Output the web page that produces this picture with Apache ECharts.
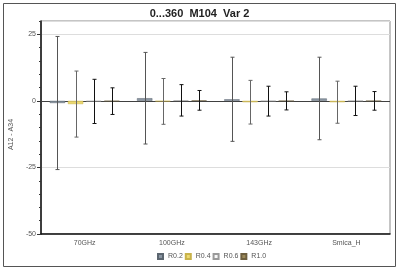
<!DOCTYPE html>
<html><head><meta charset="utf-8">
<script src="https://cdn.jsdelivr.net/npm/echarts@6/dist/echarts.min.js"></script>
<style>html,body{margin:0;padding:0;background:#fff}#c{width:399px;height:269px}</style>
</head><body><div id="c"></div>
<script>
var categories = ['70GHz', '100GHz', '143GHz', 'Smica_H'];
var seriesNames = ['R0.2', 'R0.4', 'R0.6', 'R1.0'];
var r02 = [-0.8, 1.0, 0.6, 0.9];
var r04 = [-1.2, -0.2, -0.5, -0.5];
var r06 = [-0.2, 0.2, -0.1, 0.0];
var r10 = [-0.1, 0.2, 0.0, 0.0];
var err02 = [25.0, 17.2, 15.8, 15.5];
var err04 = [12.4, 8.6, 8.2, 7.9];
var err06 = [8.3, 5.9, 5.6, 5.5];
var err10 = [5.0, 3.7, 3.4, 3.5];
var yTicks = [-50, -25, 0, 25];

var values = [r02, r04, r06, r10];
var errs = [err02, err04, err06, err10];
var fills = ['#8a96a3', '#ecd970', '#f8f8f8', '#9c8a5a'];
var borders = ['#5c6670', '#c8b24a', '#9a9a9a', '#6e6040'];
var errColors = ['#555555', '#666666', '#111111', '#111111'];

var CAT_GAP = 0.20, BAR_GAP = 0.18, N = 4;
function offsetFor(i, band) {
  var avail = band * (1 - CAT_GAP);
  var w = avail / (N + (N - 1) * BAR_GAP);
  return -avail / 2 + i * w * (1 + BAR_GAP) + w / 2;
}

var series = [];
values.forEach(function (vals, i) {
  var s = {
    name: seriesNames[i], type: 'bar', data: vals,
    barCategoryGap: (CAT_GAP * 100) + '%', barGap: (BAR_GAP * 100) + '%',
    itemStyle: { color: fills[i], borderColor: borders[i], borderWidth: 0.5 },
    z: 2
  };
  if (i === 0) {
    s.markLine = { silent: true, symbol: 'none', label: { show: false },
      lineStyle: { color: '#404040', width: 1, type: 'solid' },
      data: [{ yAxis: 0 }], z: 1 };
  }
  series.push(s);
});
values.forEach(function (vals, i) {
  var d = vals.map(function (v, k) { return [k, v - errs[i][k], v + errs[i][k]]; });
  series.push({
    type: 'custom', name: seriesNames[i] + ' err', data: d, z: 5, silent: true,
    encode: { x: 0, y: [1, 2] },
    renderItem: function (params, api) {
      var k = api.value(0);
      var lo = api.coord([k, api.value(1)]);
      var hi = api.coord([k, api.value(2)]);
      var band = api.size([1, 0])[0];
      var x = Math.round(lo[0] + offsetFor(i, band)) + 0.5;
      var c = 2;
      var st = { stroke: errColors[i], lineWidth: 1 };
      return { type: 'group', children: [
        { type: 'line', shape: { x1: x, y1: lo[1], x2: x, y2: hi[1] }, style: st },
        { type: 'line', shape: { x1: x - c, y1: hi[1], x2: x + c, y2: hi[1] }, style: st },
        { type: 'line', shape: { x1: x - c, y1: lo[1], x2: x + c, y2: lo[1] }, style: st }
      ]};
    }
  });
});

var chart = echarts.init(document.getElementById('c'), null, { renderer: 'canvas' });
chart.setOption({
  animation: false,
  backgroundColor: '#ffffff',
  title: { text: '0...360  M104  Var 2', left: 'center', top: 3,
    textStyle: { fontFamily: 'Liberation Sans', fontSize: 11, fontWeight: 'bold', color: '#222' } },
  graphic: [{ type: 'rect', shape: { x: 3.5, y: 3.5, width: 392, height: 263 },
    style: { fill: 'none', stroke: '#555', lineWidth: 1 }, z: -1 }],
  legend: {
    data: seriesNames, bottom: 4, left: 152, itemWidth: 5, itemHeight: 5, itemGap: 2,
    icon: 'rect',
    textStyle: { fontFamily: 'Liberation Sans', fontSize: 7, color: '#555' }
  },
  grid: { left: 34, right: 9, top: 21, bottom: 35, show: true, borderColor: '#8a8a8a', borderWidth: 1 },
  xAxis: {
    type: 'category', data: categories,
    axisLine: { show: true, onZero: false, lineStyle: { color: '#111', width: 1.5 } },
    axisTick: { show: false },
    axisLabel: { fontFamily: 'Liberation Sans', fontSize: 7, color: '#555', margin: 6 }
  },
  yAxis: [{
    type: 'value', min: -50, max: 30, interval: 25,
    name: 'A12 - A34', nameLocation: 'middle', nameGap: 21, nameRotate: 90,
    nameTextStyle: { fontFamily: 'Liberation Sans', fontSize: 7, color: '#555', padding: [0, 0, 0, -14] },
    axisLine: { show: true, lineStyle: { color: '#111', width: 1.5 } },
    axisTick: { show: true, inside: false, length: 4, lineStyle: { color: '#333' } },
    splitLine: { show: true, lineStyle: { color: '#dddddd', width: 1 } },
    axisLabel: { fontFamily: 'Liberation Sans', fontSize: 7, color: '#555', margin: 5, showMaxLabel: false,
      formatter: function (v) { return yTicks.indexOf(v) >= 0 ? String(v) : ''; } }
  }, {
    type: 'value', min: -50, max: 30, interval: 5, position: 'left',
    axisLine: { show: false },
    axisTick: { show: true, inside: false, length: 2, lineStyle: { color: '#333' } },
    splitLine: { show: false },
    axisLabel: { show: false }
  }],
  series: series
});
</script></body></html>
